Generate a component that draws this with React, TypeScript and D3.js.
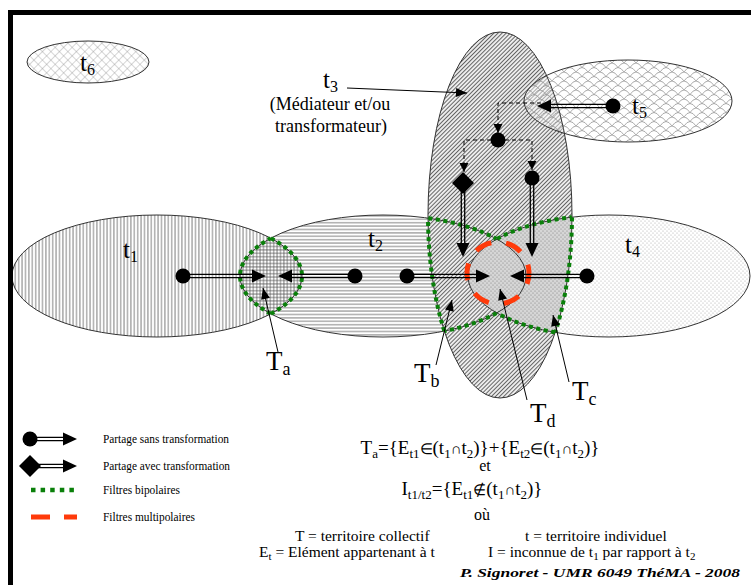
import React from "react";
import * as d3 from "d3";

const W = 751;
const H = 585;

// ---- territories (ellipses) ----
const terrIds = ["t1", "t2", "t3", "t4", "t5", "t6"];
const terrCx = [157, 383, 500, 609, 628, 88];
const terrCy = [276, 276, 215, 276, 101, 62];
const terrRx = [145, 143, 72, 141, 104, 61];
const terrRy = [61, 61, 183, 61, 41, 21];

// territory labels
const labelMain = ["t", "t", "t", "t", "t", "t"];
const labelSub = ["1", "2", "3", "4", "5", "6"];
const labelX = [123, 368, 323, 625, 632, 80];
const labelY = [258, 247, 88, 253, 114, 71];

// collective territory labels
const tLabSub = ["a", "b", "c", "d"];
const tLabX = [266, 414, 572, 530];
const tLabY = [370, 382, 400, 422];

// pointer lines [from, to]
const pointerFrom: [number, number][] = [[347, 88], [278, 352], [436, 365], [569, 382], [527, 400]];
const pointerTo: [number, number][] = [[467, 93], [263, 288], [452, 300], [553, 315], [500, 289]];

// sharing arrows
const shareFrom: [number, number][] = [[183, 276], [355, 276], [407, 276], [587, 276], [613, 106], [532, 178], [463, 183]];
const shareTo: [number, number][] = [[266, 276], [278, 276], [490, 276], [510, 276], [537, 106], [532, 257], [463, 257]];
const shareKind = ["circle", "circle", "circle", "circle", "circle", "circle", "diamond"];

// dashed connectors
const connectors: [number, number][][] = [
  [[541, 103], [498, 103], [498, 133]],
  [[498, 140], [464, 140], [464, 172]],
  [[498, 140], [532, 140], [532, 170]],
];
const hubNode: [number, number] = [498, 140];

// legend
const legendLabels = ["Partage sans transformation", "Partage avec transformation", "Filtres bipolaires", "Filtres multipolaires"];
const legendY = [439, 466, 490, 517];
const legendWidths = [126, 127, 77, 92];

type Pt = [number, number];
type Ell = { cx: number; cy: number; rx: number; ry: number };
const ell = (i: number): Ell => ({ cx: terrCx[i], cy: terrCy[i], rx: terrRx[i], ry: terrRy[i] });
const inside = (e: Ell, p: Pt) => ((p[0] - e.cx) / e.rx) ** 2 + ((p[1] - e.cy) / e.ry) ** 2 <= 1.0005;

function boundaryRuns(e: Ell, keep: (p: Pt) => boolean, n = 1440): Pt[][] {
  const pts: Pt[] = d3.range(n).map((i) => {
    const a = (2 * Math.PI * i) / n;
    return [e.cx + e.rx * Math.cos(a), e.cy + e.ry * Math.sin(a)] as Pt;
  });
  const flags = pts.map(keep);
  const start = flags.findIndex((f) => !f);
  if (start < 0) return [pts.concat([pts[0]])];
  const runs: Pt[][] = [];
  let cur: Pt[] = [];
  for (let k = 1; k <= n; k++) {
    const i = (start + k) % n;
    if (flags[i]) cur.push(pts[i]);
    else {
      if (cur.length > 1) runs.push(cur);
      cur = [];
    }
  }
  if (cur.length > 1) runs.push(cur);
  return runs;
}

const line = d3.line<Pt>().x((d) => d[0]).y((d) => d[1]);
const runsToPath = (runs: Pt[][]) => runs.map((r) => line(r)).join(" ");

const E1 = ell(0), E2 = ell(1), E3 = ell(2), E4 = ell(3);
const lensA = runsToPath([
  ...boundaryRuns(E1, (p) => inside(E2, p)),
  ...boundaryRuns(E2, (p) => inside(E1, p)),
]);
const unionBCD = runsToPath([
  ...boundaryRuns(E3, (p) => inside(E2, p) || inside(E4, p)),
  ...boundaryRuns(E2, (p) => inside(E3, p) && !inside(E4, p)),
  ...boundaryRuns(E4, (p) => inside(E3, p) && !inside(E2, p)),
]);

function head(tip: Pt, from: Pt, len: number, hw: number) {
  const dx = tip[0] - from[0], dy = tip[1] - from[1];
  const L = Math.hypot(dx, dy);
  const ux = dx / L, uy = dy / L;
  const bx = tip[0] - ux * len, by = tip[1] - uy * len;
  return `M${tip[0]},${tip[1]}L${bx - uy * hw},${by + ux * hw}L${bx + uy * hw},${by - ux * hw}Z`;
}

function DoubleArrow({ from, to, kind, r = 7.5, dia = 11 }: { from: Pt; to: Pt; kind: string; r?: number; dia?: number }) {
  const dx = to[0] - from[0], dy = to[1] - from[1];
  const L = Math.hypot(dx, dy);
  const ux = dx / L, uy = dy / L;
  const hl = 14;
  const ex = to[0] - ux * (hl - 2), ey = to[1] - uy * (hl - 2);
  const off = 1.7;
  return (
    <g>
      <line x1={from[0] - uy * off} y1={from[1] + ux * off} x2={ex - uy * off} y2={ey + ux * off} stroke="#000" strokeWidth={1.3} />
      <line x1={from[0] + uy * off} y1={from[1] - ux * off} x2={ex + uy * off} y2={ey - ux * off} stroke="#000" strokeWidth={1.3} />
      <path d={head(to, from, hl, 6.5)} fill="#000" />
      {kind === "circle" ? (
        <circle cx={from[0]} cy={from[1]} r={r} fill="#000" />
      ) : (
        <path d={`M${from[0]},${from[1] - dia}L${from[0] + dia},${from[1]}L${from[0]},${from[1] + dia}L${from[0] - dia},${from[1]}Z`} fill="#000" />
      )}
    </g>
  );
}

const serif = "Liberation Serif, serif";

// part: [text, kind] kind: 0 normal, 1 subscript, 2 symbol (smaller, normal baseline)
type Part = [string, number];
function Rich({ x, y, parts, size, sub, anchor = "start", shift = 5, sym = size * 0.8 }: { x: number; y: number; parts: Part[]; size: number; sub: number; anchor?: string; shift?: number; sym?: number }) {
  let state = false;
  return (
    <text x={x} y={y} fontSize={size} textAnchor={anchor as any} fontFamily={serif} fill="#000">
      {parts.map(([s, kind], i) => {
        const isSub = kind === 1;
        let dy = 0;
        if (isSub && !state) dy = shift;
        if (!isSub && state) dy = -shift;
        state = isSub;
        return (
          <tspan key={i} dy={dy} fontSize={isSub ? sub : kind === 2 ? sym : size}>
            {s}
          </tspan>
        );
      })}
    </text>
  );
}

export default function App() {
  const fills = ["url(#pVert)", "url(#pHoriz)", "url(#pDiag)", "url(#pDots)", "url(#pScales)", "url(#pCross)"];
  return (
    <svg width={W} height={H} viewBox={`0 0 ${W} ${H}`} style={{ position: "absolute", left: 0, top: 0, fontFamily: serif }} xmlns="http://www.w3.org/2000/svg">
      <defs>
        <pattern id="pVert" width={3.4} height={10} patternUnits="userSpaceOnUse">
          <line x1={1.7} y1={0} x2={1.7} y2={10} stroke="#555" strokeWidth={0.8} />
        </pattern>
        <pattern id="pHoriz" width={10} height={3.4} patternUnits="userSpaceOnUse">
          <line x1={0} y1={1.7} x2={10} y2={1.7} stroke="#555" strokeWidth={0.8} />
        </pattern>
        <pattern id="pDiag" width={2.9} height={10} patternUnits="userSpaceOnUse" patternTransform="rotate(45)">
          <rect width={2.9} height={10} fill="#ececec" />
          <line x1={1.45} y1={0} x2={1.45} y2={10} stroke="#585858" strokeWidth={0.9} />
        </pattern>
        <pattern id="pDots" width={4} height={4} patternUnits="userSpaceOnUse">
          <rect width={4} height={4} fill="#fff" />
          <circle cx={1} cy={1} r={0.5} fill="#999" />
          <circle cx={3} cy={3} r={0.5} fill="#999" />
        </pattern>
        <pattern id="pDotsDark" width={4} height={4} patternUnits="userSpaceOnUse">
          <rect width={4} height={4} fill="#d6d6d6" />
          <circle cx={1} cy={1} r={0.55} fill="#777" />
          <circle cx={3} cy={3} r={0.55} fill="#777" />
        </pattern>
        <pattern id="pScales" width={12} height={9} patternUnits="userSpaceOnUse">
          <path d="M0,9 Q6,0 12,9 M-6,4.5 Q0,-4.5 6,4.5 M6,4.5 Q12,-4.5 18,4.5" fill="none" stroke="#888" strokeWidth={0.7} />
        </pattern>
        <pattern id="pCross" width={6} height={6} patternUnits="userSpaceOnUse" patternTransform="rotate(45)">
          <rect width={6} height={6} fill="#fff" />
          <line x1={0} y1={0} x2={6} y2={0} stroke="#888" strokeWidth={0.7} />
          <line x1={0} y1={0} x2={0} y2={6} stroke="#888" strokeWidth={0.7} />
        </pattern>
        <clipPath id="clipT3">
          <ellipse cx={terrCx[2]} cy={terrCy[2]} rx={terrRx[2]} ry={terrRy[2]} />
        </clipPath>
      </defs>

      <rect width={W} height={H} fill="#fff" />

      {/* t6 */}
      <ellipse cx={terrCx[5]} cy={terrCy[5]} rx={terrRx[5]} ry={terrRy[5]} fill={fills[5]} />
      {/* t1, t2 (transparent hatching) */}
      <ellipse cx={terrCx[0]} cy={terrCy[0]} rx={terrRx[0]} ry={terrRy[0]} fill="#fff" />
      <ellipse cx={terrCx[1]} cy={terrCy[1]} rx={terrRx[1]} ry={terrRy[1]} fill="#fff" />
      <ellipse cx={terrCx[0]} cy={terrCy[0]} rx={terrRx[0]} ry={terrRy[0]} fill={fills[0]} />
      <ellipse cx={terrCx[1]} cy={terrCy[1]} rx={terrRx[1]} ry={terrRy[1]} fill={fills[1]} />
      {/* t3 */}
      <ellipse cx={terrCx[2]} cy={terrCy[2]} rx={terrRx[2]} ry={terrRy[2]} fill={fills[2]} />
      {/* t4 */}
      <ellipse cx={terrCx[3]} cy={terrCy[3]} rx={terrRx[3]} ry={terrRy[3]} fill={fills[3]} />
      <g clipPath="url(#clipT3)">
        <ellipse cx={terrCx[3]} cy={terrCy[3]} rx={terrRx[3]} ry={terrRy[3]} fill="url(#pDotsDark)" />
      </g>
      {/* t5 */}
      <ellipse cx={terrCx[4]} cy={terrCy[4]} rx={terrRx[4]} ry={terrRy[4]} fill="#fff" fillOpacity={0.45} />
      <ellipse cx={terrCx[4]} cy={terrCy[4]} rx={terrRx[4]} ry={terrRy[4]} fill={fills[4]} />

      {/* outlines */}
      {terrIds.map((id, i) => (
        <ellipse key={id} cx={terrCx[i]} cy={terrCy[i]} rx={terrRx[i]} ry={terrRy[i]} fill="none" stroke="#333" strokeWidth={1} />
      ))}

      {/* filters */}
      <path d={lensA} fill="none" stroke="#0a800a" strokeWidth={4} strokeDasharray="4 3.6" />
      <path d={unionBCD} fill="none" stroke="#0a800a" strokeWidth={4} strokeDasharray="4 3.6" />
      <circle cx={498} cy={273} r={31} fill="none" stroke="#ff3a0a" strokeWidth={5} strokeDasharray="17 15" strokeDashoffset={6} />

      {/* dashed connectors */}
      {connectors.map((c, i) => (
        <g key={i}>
          <path d={line(c) || ""} fill="none" stroke="#000" strokeWidth={1} strokeDasharray="4 3" />
          <path d={head(c[c.length - 1], c[c.length - 2], 9, 4.5)} fill="#000" />
        </g>
      ))}
      <circle cx={hubNode[0]} cy={hubNode[1]} r={7.5} fill="#000" />

      {/* sharing arrows */}
      {shareFrom.map((f, i) => (
        <DoubleArrow key={i} from={f} to={shareTo[i]} kind={shareKind[i]} />
      ))}

      {/* pointers */}
      {pointerFrom.map((f, i) => (
        <g key={i}>
          <line x1={f[0]} y1={f[1]} x2={pointerTo[i][0]} y2={pointerTo[i][1]} stroke="#000" strokeWidth={1} />
          <path d={head(pointerTo[i], f, 11, 4.5)} fill="#000" />
        </g>
      ))}

      {/* territory labels */}
      {terrIds.map((id, i) => (
        <Rich key={id} x={labelX[i]} y={labelY[i]} size={25} sub={16} shift={4} parts={[[labelMain[i], 0], [labelSub[i], 1]]} />
      ))}
      <text x={330} y={110} fontSize={18} textAnchor="middle" fontFamily={serif}>(Médiateur et/ou</text>
      <text x={331} y={132} fontSize={18} textAnchor="middle" fontFamily={serif}>transformateur)</text>

      {tLabSub.map((s, i) => (
        <Rich key={s} x={tLabX[i]} y={tLabY[i]} size={27} sub={18} shift={5} parts={[["T", 0], [s, 1]]} />
      ))}

      {/* formulas */}
      <Rich x={480} y={454} size={19} sub={13} shift={4} sym={15} parts={[["T", 0], ["a", 1], ["={E", 0], ["t1", 1], ["∈", 2], ["(t", 0], ["1", 1], ["∩", 2], ["t", 0], ["2", 1], [")}+{E", 0], ["t2", 1], ["∈", 2], ["(t", 0], ["1", 1], ["∩", 2], ["t", 0], ["2", 1], [")}", 0]]} anchor="middle" />
      <text x={485} y={471} fontSize={16} textAnchor="middle" fontFamily={serif}>et</text>
      <Rich x={472} y={495} size={19} sub={13} shift={4} sym={15} parts={[["I", 0], ["t1/t2", 1], ["={E", 0], ["t1", 1], ["∉", 2], ["(t", 0], ["1", 1], ["∩", 2], ["t", 0], ["2", 1], [")}", 0]]} anchor="middle" />
      <text x={482} y={520} fontSize={16} textAnchor="middle" fontFamily={serif}>où</text>

      <text x={295} y={541} fontSize={15.5} fontFamily={serif}>T = territoire collectif</text>
      <text x={525} y={541} fontSize={15.5} fontFamily={serif}>t = territoire individuel</text>
      <Rich x={259} y={557} size={15.5} sub={11} shift={3} parts={[["E", 0], ["t", 1], [" = Elément appartenant à t", 0]]} />
      <Rich x={488} y={557} size={15.5} sub={11} shift={3} parts={[["I = inconnue de t", 0], ["1", 1], [" par rapport à t", 0], ["2", 1]]} />

      <text x={460} y={577} fontSize={12} fontStyle="italic" fontWeight="bold" fontFamily={serif} textLength={280} lengthAdjust="spacingAndGlyphs">
        P. Signoret - UMR 6049 ThéMA - 2008
      </text>

      {/* legend */}
      <DoubleArrow from={[30, legendY[0]]} to={[77, legendY[0]]} kind="circle" />
      <DoubleArrow from={[30, legendY[1]]} to={[77, legendY[1]]} kind="diamond" />
      <line x1={31} y1={legendY[2]} x2={75} y2={legendY[2]} stroke="#0a800a" strokeWidth={4.5} strokeDasharray="4.5 5.1" />
      <line x1={31} y1={legendY[3]} x2={77} y2={legendY[3]} stroke="#ff3a0a" strokeWidth={5} strokeDasharray="19 14" />
      {legendLabels.map((l, i) => (
        <text key={l} x={103} y={legendY[i] + 4} fontSize={12} fontFamily={serif} textLength={legendWidths[i]} lengthAdjust="spacingAndGlyphs">
          {l}
        </text>
      ))}

      {/* frame (top and left) */}
      <line x1={8} y1={12.5} x2={W} y2={12.5} stroke="#000" strokeWidth={5} />
      <line x1={10.5} y1={10} x2={10.5} y2={H} stroke="#000" strokeWidth={5} />
    </svg>
  );
}
